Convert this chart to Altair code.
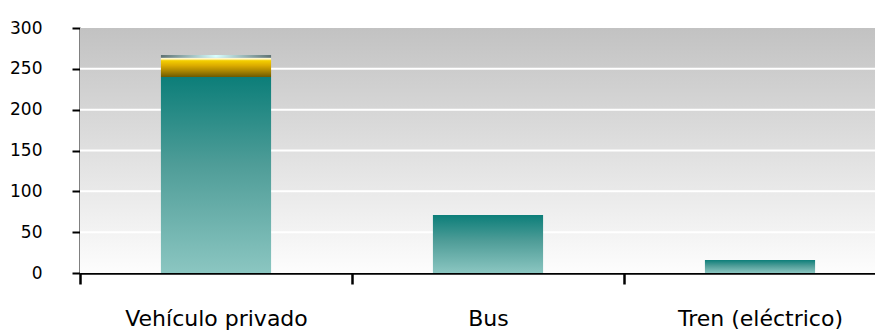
import altair as alt
import pandas as pd

categories = ["Vehículo privado", "Bus", "Tren (eléctrico)"]
base_values = [240, 71, 16]      # teal segment
mid_values = [23.5, 0, 0]        # gold segment
top_values = [3.5, 0, 0]         # grey cap segment
grid_values = [50, 100, 150, 200, 250]
y_ticks = [0, 50, 100, 150, 200, 250, 300]

rows = []
for c, b, m, t in zip(categories, base_values, mid_values, top_values):
    s = 0
    for seg, v in (("base", b), ("mid", m), ("top", t)):
        if v > 0:
            rows.append({"cat": c, "seg": seg, "start": s, "end": s + v})
        s += v
df = pd.DataFrame(rows)

W, H = 795, 245
xscale = alt.Scale(domain=categories, range=[0, 816], paddingInner=0, paddingOuter=0)
yscale = alt.Scale(domain=[0, 300], nice=False)

yaxis = alt.Axis(title=None, values=y_ticks,
                 labelFont="DejaVu Sans", labelFontSize=17,
                 labelColor="black", tickSize=8, tickWidth=2,
                 tickColor="black", domainColor="black",
                 domainWidth=2, labelPadding=30, grid=False)

bg = alt.Chart(pd.DataFrame({"a": [0]})).mark_rect(
    fill=alt.Gradient(gradient="linear",
                      stops=[alt.GradientStop(color="#c2c2c2", offset=0),
                             alt.GradientStop(color="#fdfdfd", offset=1)],
                      x1=0, x2=0, y1=0, y2=1)
).encode(x=alt.value(0), x2=alt.value(W), y=alt.value(0), y2=alt.value(H))

grid = alt.Chart(pd.DataFrame({"v": grid_values})).mark_rule(
    color="white", strokeWidth=2
).encode(y=alt.Y("v:Q", scale=yscale, axis=yaxis))

def bars(seg, fill):
    return alt.Chart(df).transform_filter(alt.datum.seg == seg).mark_bar(
        fill=fill, width=alt.RelativeBandSize(0.405)
    ).encode(
        x=alt.X("cat:N", scale=xscale, sort=categories,
                axis=alt.Axis(title=None, labelAngle=0, labelFont="DejaVu Sans",
                              labelFontSize=22, labelColor="black", labelLimit=0,
                              tickBand="extent", tickSize=11, tickWidth=2.5,
                              tickColor="black", domainColor="black",
                              domainWidth=2.5, labelPadding=24, grid=False)),
        y=alt.Y("start:Q", scale=yscale, axis=yaxis),
        y2="end:Q",
    )

teal = alt.Gradient(gradient="linear",
                    stops=[alt.GradientStop(color="#0c7e79", offset=0),
                           alt.GradientStop(color="#4f9d98", offset=0.45),
                           alt.GradientStop(color="#8bc6c1", offset=1)],
                    x1=0, x2=0, y1=0, y2=1)
gold = alt.Gradient(gradient="linear",
                    stops=[alt.GradientStop(color="#fffbe6", offset=0),
                           alt.GradientStop(color="#fff4b0", offset=0.07),
                           alt.GradientStop(color="#f4cf00", offset=0.15),
                           alt.GradientStop(color="#dcac00", offset=0.4),
                           alt.GradientStop(color="#a88400", offset=0.7),
                           alt.GradientStop(color="#6e5a00", offset=1)],
                    x1=0, x2=0, y1=0, y2=1)
cap = alt.Gradient(gradient="linear",
                   stops=[alt.GradientStop(color="#5e7272", offset=0),
                          alt.GradientStop(color="#d8ffff", offset=0.5),
                          alt.GradientStop(color="#5e7272", offset=1)],
                   x1=0, x2=1, y1=0, y2=0)

chart = alt.layer(bg, grid, bars("base", teal), bars("mid", gold), bars("top", cap)).properties(
    width=W, height=H,
    autosize=alt.AutoSizeParams(type="none"),
    padding={"left": 72, "top": 20, "right": 0, "bottom": 60},
).configure_view(stroke=None)

chart.save("out.html", embed_options={"renderer": "svg", "actions": False})
